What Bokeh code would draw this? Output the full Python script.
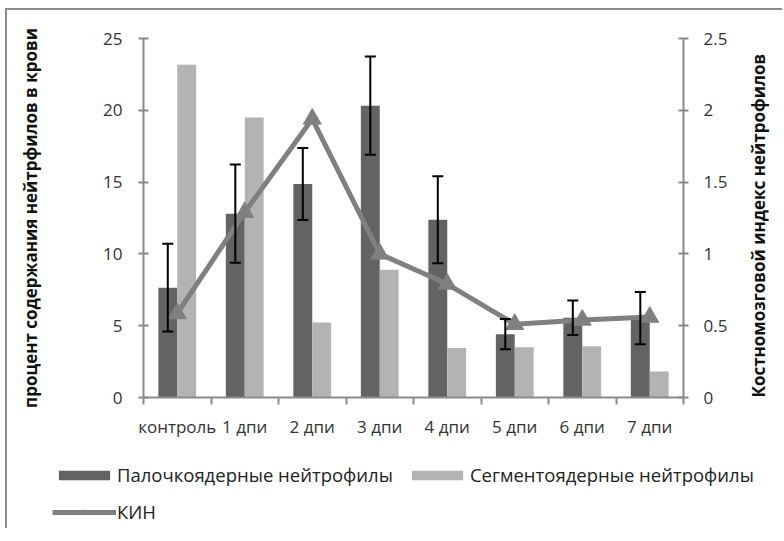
import math
import numpy as np
from bokeh.plotting import figure
from bokeh.models import (ColumnDataSource, Range1d, LinearAxis, FixedTicker,
                          CustomJSTickFormatter, NumeralTickFormatter, Whisker, TeeHead,
                          Legend, LegendItem)
from bokeh.transform import dodge
from bokeh.embed import file_html
from bokeh.resources import INLINE

# ---- data ----
categories = ["контроль", "1 дпи", "2 дпи", "3 дпи", "4 дпи", "5 дпи", "6 дпи", "7 дпи"]
palochko = [7.65, 12.8, 14.87, 20.32, 12.38, 4.41, 5.55, 5.53]          # Палочкоядерные
palochko_err = [3.05, 3.42, 2.51, 3.42, 3.03, 1.05, 1.2, 1.82]
segmento = [23.17, 19.5, 5.22, 8.9, 3.45, 3.5, 3.57, 1.81]               # Сегментоядерные
kin = [0.585, 1.29, 1.94, 1.0, 0.79, 0.51, 0.54, 0.56]                   # КИН
left_ticks = [0, 5, 10, 15, 20, 25]
right_ticks = [0, 0.5, 1, 1.5, 2, 2.5]

label_palo = "Палочкоядерные нейтрофилы"
label_segm = "Сегментоядерные нейтрофилы"
label_kin = "КИН"
title_left = "процент содержания нейтрфилов в крови"
title_right = "Костномозговой индекс нейтрофилов"

FONT = "Open Sans"
AXIS_COLOR = "#8a8a8a"
TEXT_COLOR = "#333333"
DARK = "#636363"
LIGHT = "#b3b3b3"
LINE = "#808080"

n = len(categories)
centers = np.arange(n) + 0.5
src = ColumnDataSource(dict(
    x=centers,
    palo=palochko,
    segm=segmento,
    up=np.array(palochko) + np.array(palochko_err),
    lo=np.array(palochko) - np.array(palochko_err),
    kin=kin,
))

W = 777
p = figure(width=W, height=430, x_range=Range1d(0, n), y_range=Range1d(0, 25),
           output_backend="svg", toolbar_location=None,
           x_axis_type=None, y_axis_type=None,
           min_border_left=136, min_border_right=101, min_border_top=28, min_border_bottom=43,
           background_fill_color="white", border_fill_color="white")
p.outline_line_color = None
p.xgrid.visible = False
p.ygrid.visible = False
p.extra_y_ranges = {"kin": Range1d(0, 2.5)}
p.styles = {"margin-left": "5px", "margin-top": "8px",
            "border-left": "2px solid #8c8c8c", "border-top": "2px solid #8c8c8c"}

# x axis: labels at category centres, ticks at category boundaries
xaxis = LinearAxis(
    ticker=FixedTicker(ticks=list(centers), minor_ticks=list(range(n + 1))),
    formatter=CustomJSTickFormatter(args=dict(cats=categories),
                                    code="return cats[Math.round(tick - 0.5)];"),
)
xaxis.axis_line_color = AXIS_COLOR
xaxis.axis_line_width = 2
xaxis.major_tick_line_color = None
xaxis.major_tick_in = 0
xaxis.major_tick_out = 0
xaxis.minor_tick_line_color = AXIS_COLOR
xaxis.minor_tick_line_width = 2
xaxis.minor_tick_in = 0
xaxis.minor_tick_out = 7
xaxis.major_label_standoff = 10
xaxis.major_label_text_font = FONT
xaxis.major_label_text_font_size = "17px"
xaxis.major_label_text_color = TEXT_COLOR
p.add_layout(xaxis, "below")

# left axis
yaxis = LinearAxis(ticker=FixedTicker(ticks=left_ticks), axis_label=title_left)
yaxis.axis_line_color = AXIS_COLOR
yaxis.axis_line_width = 2
yaxis.major_tick_line_color = AXIS_COLOR
yaxis.major_tick_line_width = 2
yaxis.major_tick_in = 5
yaxis.major_tick_out = 5
yaxis.minor_tick_line_color = None
yaxis.major_label_standoff = 16
yaxis.major_label_text_font = FONT
yaxis.major_label_text_font_size = "17px"
yaxis.major_label_text_color = TEXT_COLOR
yaxis.axis_label_standoff = 58
yaxis.axis_label_text_font = FONT
yaxis.axis_label_text_font_style = "bold"
yaxis.axis_label_text_font_size = "17px"
yaxis.axis_label_text_color = "#111111"
p.add_layout(yaxis, "left")

# right axis
raxis = LinearAxis(y_range_name="kin", ticker=FixedTicker(ticks=right_ticks),
                   formatter=NumeralTickFormatter(format="0.[0]"), axis_label=title_right)
raxis.axis_line_color = AXIS_COLOR
raxis.axis_line_width = 2
raxis.major_tick_line_color = AXIS_COLOR
raxis.major_tick_line_width = 2
raxis.major_tick_in = 5
raxis.major_tick_out = 5
raxis.minor_tick_line_color = None
raxis.major_label_standoff = 15
raxis.major_label_text_font = FONT
raxis.major_label_text_font_size = "17px"
raxis.major_label_text_color = TEXT_COLOR
raxis.axis_label_standoff = 28
raxis.axis_label_text_font = FONT
raxis.axis_label_text_font_style = "bold"
raxis.axis_label_text_font_size = "17px"
raxis.axis_label_text_color = "#111111"
props = LinearAxis.properties()
if "axis_label_orientation" in props:
    raxis.axis_label_orientation = math.pi / 2
if "axis_label_align" in props:
    raxis.axis_label_align = "start"
p.add_layout(raxis, "right")

# bars
p.vbar(x=dodge("x", -0.14), top="palo", width=0.28, source=src,
       fill_color=DARK, line_color=None)
p.vbar(x=dodge("x", 0.14), top="segm", width=0.28, source=src,
       fill_color=LIGHT, line_color=None)

# error bars
whisk = Whisker(source=src, base=dodge("x", -0.14), upper="up", lower="lo",
                dimension="height", line_color="black", line_width=2,
                upper_head=TeeHead(size=11, line_color="black", line_width=2),
                lower_head=TeeHead(size=11, line_color="black", line_width=2))
whisk.level = "glyph"
p.add_layout(whisk)

# КИН line
p.line("x", "kin", source=src, y_range_name="kin", line_color=LINE, line_width=5)
p.scatter("x", "kin", source=src, y_range_name="kin", marker="triangle",
          size=18, fill_color=LINE, line_color=LINE)

# ---- legend strip below the chart (its own root so it is not frame-aligned) ----
# the ranges exclude the data, so only the legend is visible in this strip
lf = figure(width=W, height=90, x_range=Range1d(-3, -2), y_range=Range1d(-3, -2),
            output_backend="svg", toolbar_location=None,
            x_axis_type=None, y_axis_type=None, min_border=0,
            background_fill_color="white", border_fill_color="white")
lf.outline_line_color = None
lf.xgrid.visible = False
lf.ygrid.visible = False
lf.styles = {"margin-left": "5px", "border-left": "2px solid #8c8c8c"}
l1 = lf.vbar(x="x", top="palo", width=0.28, source=src, fill_color=DARK, line_color=None)
l2 = lf.vbar(x="x", top="segm", width=0.28, source=src, fill_color=LIGHT, line_color=None)
l3 = lf.line(x="x", y="kin", source=src, line_color=LINE, line_width=5)
l4 = lf.scatter(x="x", y="kin", source=src, marker="triangle", size=18,
                fill_color=LINE, line_color=LINE)

legend = Legend(items=[
    LegendItem(label=label_palo, renderers=[l1]),
    LegendItem(label=label_segm, renderers=[l2]),
    LegendItem(label=label_kin, renderers=[l3, l4]),
], orientation="horizontal", ncols=2, location=(45, 4),
    glyph_width=64, glyph_height=12, label_standoff=1, padding=0, margin=0,
    spacing=12, border_line_color=None, background_fill_alpha=0,
    label_text_font=FONT, label_text_font_size="18.5px", label_text_color="#222222")
lf.add_layout(legend, "center")

open("out.html", "w").write(file_html([p, lf], INLINE))
